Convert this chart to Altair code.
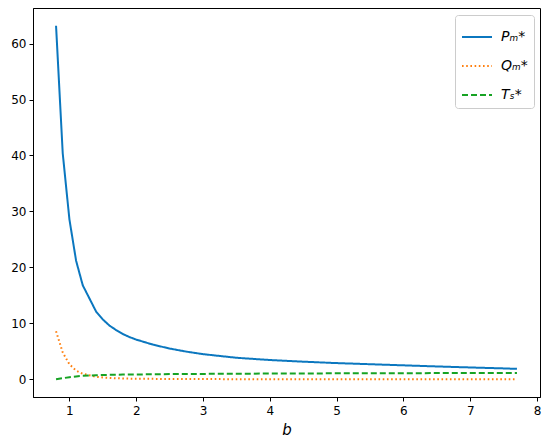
import altair as alt
import pandas as pd

# values
b_vals = [0.8, 0.9, 1.0, 1.1, 1.2, 1.4, 1.5, 1.6, 1.7, 1.8, 1.9, 2.0, 2.25, 2.5, 2.75, 3.0,
          3.5, 4.0, 4.5, 5.0, 5.5, 6.0, 6.5, 7.0, 7.5, 7.7]
P_vals = [63.2, 40.4, 28.6, 21.2, 16.8, 12.1, 10.7, 9.6, 8.8, 8.1, 7.55, 7.1, 6.2, 5.5, 4.95, 4.5,
          3.85, 3.45, 3.15, 2.9, 2.7, 2.5, 2.3, 2.12, 1.95, 1.87]
Q_vals = [8.6, 4.8, 2.7, 1.55, 1.0, 0.45, 0.33, 0.25, 0.19, 0.15, 0.12, 0.1, 0.08, 0.06, 0.05, 0.04,
          0.03, 0.02, 0.02, 0.01, 0.01, 0.01, 0.01, 0.0, 0.0, 0.0]
T_vals = [0.0, 0.2, 0.38, 0.52, 0.63, 0.74, 0.77, 0.8, 0.82, 0.84, 0.86, 0.87, 0.9, 0.93, 0.95, 0.97,
          1.0, 1.03, 1.05, 1.07, 1.09, 1.1, 1.11, 1.12, 1.13, 1.13]

series_names = ["Pₘ*", "Qₘ*", "Tₛ*"]
series_colors = ["#0b77bf", "#ff7f0e", "#17a324"]
series_dashes = [[1, 0], [1.6, 2.6], [6, 3]]

x_ticks = [1, 2, 3, 4, 5, 6, 7, 8]
y_ticks = [0, 10, 20, 30, 40, 50, 60]

rows = []
for name, vals in zip(series_names, [P_vals, Q_vals, T_vals]):
    for i, (bv, v) in enumerate(zip(b_vals, vals)):
        rows.append({"b": bv, "value": v, "series": name, "idx": i})
df = pd.DataFrame(rows)

chart = alt.Chart(df).mark_line(strokeWidth=2).encode(
    x=alt.X("b:Q", title="b",
            scale=alt.Scale(domain=[0.455, 8.045], nice=False, zero=False),
            axis=alt.Axis(values=x_ticks, grid=False, tickSize=4, labelPadding=4,
                          titleFontStyle="italic", titleFontWeight="normal",
                          titleFontSize=15, titlePadding=6)),
    y=alt.Y("value:Q", title=None,
            scale=alt.Scale(domain=[-3.16, 66.36], nice=False, zero=False),
            axis=alt.Axis(values=y_ticks, grid=False, tickSize=4, labelPadding=3)),
    color=alt.Color("series:N",
                    scale=alt.Scale(domain=series_names, range=series_colors),
                    legend=alt.Legend(title=None, orient="none", legendX=422, legendY=7,
                                      symbolType="stroke", symbolSize=900,
                                      symbolStrokeWidth=2, labelFontSize=14,
                                      labelFontStyle="italic", labelFont="DejaVu Sans",
                                      rowPadding=6, padding=6, labelOffset=8,
                                      strokeColor="#cccccc", fillColor="white",
                                      cornerRadius=3)),
    strokeDash=alt.StrokeDash("series:N",
                              scale=alt.Scale(domain=series_names, range=series_dashes),
                              legend=None),
    order="idx:Q",
).properties(
    width=507, height=389,
    autosize=alt.AutoSizeParams(type="none"),
    padding={"left": 25, "top": 0, "right": 2, "bottom": 40},
).configure_view(
    stroke="black", strokeWidth=1
).configure_axis(
    labelFont="DejaVu Sans", labelFontSize=12, labelColor="black",
    titleFont="DejaVu Sans", titleColor="black",
    domainColor="black", tickColor="black"
)

chart.save("out.html", embed_options={"renderer": "svg", "actions": False})
